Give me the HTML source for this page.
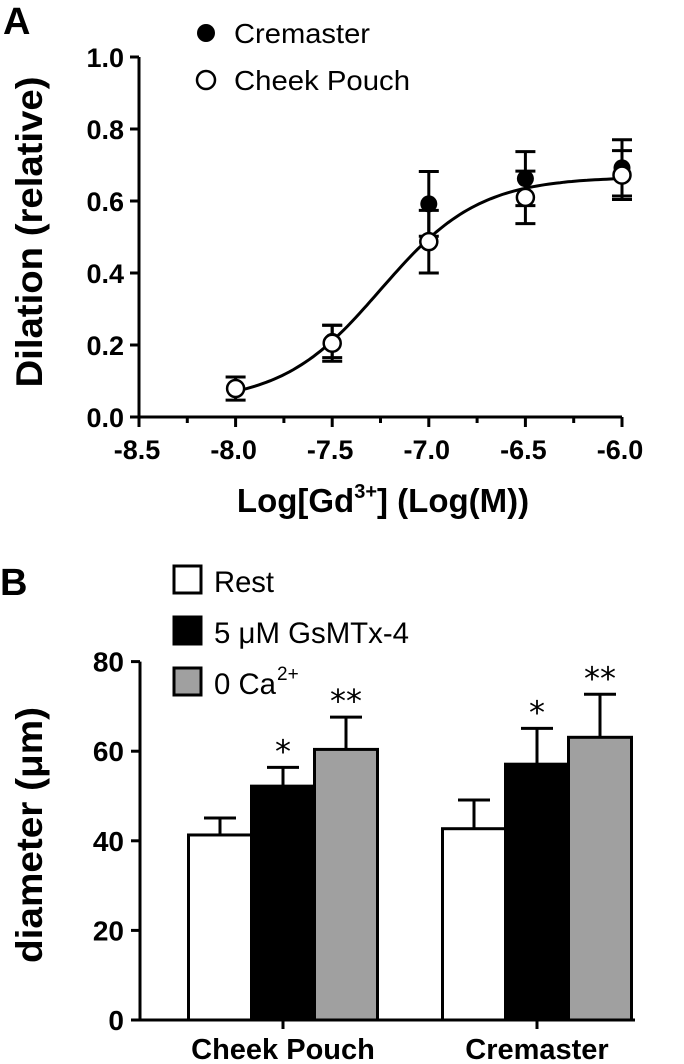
<!DOCTYPE html>
<html><head><meta charset="utf-8"><style>
html,body{margin:0;padding:0;background:#fff;}
svg{display:block;font-family:"Liberation Sans",Arial,sans-serif;}
</style></head><body>
<svg id="fig" width="684" height="1064" viewBox="0 0 684 1064" xmlns="http://www.w3.org/2000/svg">
<g id="pa"></g>
<g id="pb"></g>
</svg>
<script>
// ---- Panel A data ----
const doseX = [-8.0, -7.5, -7.0, -6.5, -6.0];
const cremY = [null, 0.21, 0.592, 0.662, 0.692];
const cremErr = [null, 0.045, 0.09, 0.075, 0.078];
const cheekY = [0.079, 0.205, 0.487, 0.61, 0.672];
const cheekErr = [0.032, 0.05, 0.087, 0.073, 0.068];
const xTicksA = [-8.5, -8.0, -7.5, -7.0, -6.5, -6.0];
const yTicksA = [0.0, 0.2, 0.4, 0.6, 0.8, 1.0];
const fitParams = [0.04, 0.667, -7.25, 1.7]; // bottom, top, logEC50, hill
// ---- Panel B data ----
const groups = ["Cheek Pouch", "Cremaster"];
const restVals = [41.3, 42.7];
const restErr = [3.8, 6.4];
const gsVals = [52.2, 57.1];
const gsErr = [4.2, 8.0];
const caVals = [60.4, 63.1];
const caErr = [7.2, 9.6];
const yTicksB = [0, 20, 40, 60, 80];
const gsStars = ["*", "*"];
const caStars = ["**", "**"];

const NS = "http://www.w3.org/2000/svg";
function mk(parent, tag, attrs, text) {
  const e = document.createElementNS(NS, tag);
  for (const k in attrs) e.setAttribute(k, attrs[k]);
  if (text !== undefined) e.textContent = text;
  parent.appendChild(e);
  return e;
}
const pa = document.getElementById('pa');
const pb = document.getElementById('pb');

const xA = v => 139 + (v + 8.5) * 193.2;
const yA = v => 417 - v * 360;

let t;
t = mk(pa, 'text', {x: 3, y: 34, 'font-size': 38, 'font-weight': 'bold'}, 'A');



let ax = mk(pa, 'path', {d: `M139 ${yA(1)} V${yA(0)} H${xA(-6)}`, fill: 'none', stroke: '#000', 'stroke-width': 3});


yTicksA.forEach(v => {
  const l = mk(pa, 'line', {x1: 130, x2: 139, y1: yA(v), y2: yA(v), stroke: '#000', 'stroke-width': 3});
  
  
  const tx = mk(pa, 'text', {x: 124, y: yA(v) + 10, 'font-size': 27, 'font-weight': 'bold', 'text-anchor': 'end'}, v.toFixed(1));
  
  
});
xTicksA.forEach((v, i) => {
  const l = mk(pa, 'line', {x1: xA(v), x2: xA(v), y1: 417, y2: 427, stroke: '#000', 'stroke-width': 3});
  
  
  if (i < xTicksA.length - 1) {
    const m = mk(pa, 'line', {x1: xA(v + 0.25), x2: xA(v + 0.25), y1: 417, y2: 423, stroke: '#000', 'stroke-width': 3});
    
    
  }
  const tx = mk(pa, 'text', {x: xA(v) - 2, y: 459, 'font-size': 27, 'font-weight': 'bold', 'text-anchor': 'middle'}, v.toFixed(1));
  
  
});
t = mk(pa, 'text', {x: 383, y: 512, 'font-size': 33, 'font-weight': 'bold', 'text-anchor': 'middle'});
t.innerHTML = 'Log[Gd<tspan font-size="20" dy="-14">3+</tspan><tspan dy="14">] (Log(M))</tspan>';


t = mk(pa, 'text', {x: 0, y: 0, 'font-size': 37, 'font-weight': 'bold', 'text-anchor': 'middle', textLength: 311, lengthAdjust: 'spacingAndGlyphs', transform: 'translate(42,232) rotate(-90)'}, 'Dilation (relative)');



let d = '';
for (let x = -8.0; x <= -6.0001 + 0.01; x += 0.02) {
  const [b, tp, ec, h] = fitParams;
  const y = b + (tp - b) / (1 + Math.pow(10, (ec - x) * h));
  d += (d ? 'L' : 'M') + xA(x).toFixed(1) + ' ' + yA(y).toFixed(1);
}
let cv = mk(pa, 'path', {d: d, fill: 'none', stroke: '#000', 'stroke-width': 3});



function errBar(parent, x, y, e, name) {
  const g = mk(parent, 'g', {stroke: '#000', 'stroke-width': 3});
  
  
  mk(g, 'line', {x1: x, x2: x, y1: yA(y + e), y2: yA(y - e)});
  mk(g, 'line', {x1: x - 10, x2: x + 10, y1: yA(y + e), y2: yA(y + e)});
  mk(g, 'line', {x1: x - 10, x2: x + 10, y1: yA(y - e), y2: yA(y - e)});
}
doseX.forEach((v, i) => {
  if (cremY[i] !== null) {
    errBar(pa, xA(v), cremY[i], cremErr[i], 'cremaster-error-bar');
    const c = mk(pa, 'circle', {cx: xA(v), cy: yA(cremY[i]), r: 8.5, fill: '#000'});
    
    
  }
});
doseX.forEach((v, i) => {
  errBar(pa, xA(v), cheekY[i], cheekErr[i], 'cheek-pouch-error-bar');
  const c = mk(pa, 'circle', {cx: xA(v), cy: yA(cheekY[i]), r: 8.5, fill: '#fff', stroke: '#000', 'stroke-width': 2.5});
  
  
});
let lg = mk(pa, 'g', {});


let e1 = mk(lg, 'circle', {cx: 206, cy: 33, r: 9, fill: '#000'});


t = mk(lg, 'text', {x: 234, y: 43, 'font-size': 28, textLength: 136, lengthAdjust: 'spacingAndGlyphs'}, 'Cremaster');


e1 = mk(lg, 'circle', {cx: 206, cy: 80, r: 9, fill: '#fff', stroke: '#000', 'stroke-width': 2.5});


t = mk(lg, 'text', {x: 234, y: 90, 'font-size': 28, textLength: 176, lengthAdjust: 'spacingAndGlyphs'}, 'Cheek Pouch');



// ---- Panel B ----
const yB = v => 1020 - v * 4.48;
const groupX = [283, 537];
const barW = 63;
t = mk(pb, 'text', {x: 0, y: 595, 'font-size': 38, 'font-weight': 'bold'}, 'B');


ax = mk(pb, 'path', {d: `M140 ${yB(80)} V${yB(0)} H635`, fill: 'none', stroke: '#000', 'stroke-width': 3});


yTicksB.forEach(v => {
  const l = mk(pb, 'line', {x1: 131, x2: 140, y1: yB(v), y2: yB(v), stroke: '#000', 'stroke-width': 3});
  
  
  const tx = mk(pb, 'text', {x: 124, y: yB(v) + 10, 'font-size': 28, 'font-weight': 'bold', 'text-anchor': 'end'}, String(v));
  
  
});
t = mk(pb, 'text', {x: 0, y: 0, 'font-size': 37, 'font-weight': 'bold', 'text-anchor': 'middle', textLength: 256, lengthAdjust: 'spacingAndGlyphs', transform: 'translate(42,835) rotate(-90)'}, 'diameter (μm)');



const series = [
  {vals: restVals, err: restErr, fill: '#fff', name: 'rest', stars: null},
  {vals: gsVals, err: gsErr, fill: '#000', name: 'gsmtx4', stars: gsStars},
  {vals: caVals, err: caErr, fill: '#a0a0a0', name: 'zero-ca', stars: caStars}
];
groups.forEach((gname, gi) => {
  const tk = mk(pb, 'line', {x1: groupX[gi], x2: groupX[gi], y1: 1020, y2: 1029, stroke: '#000', 'stroke-width': 3});
  
  
  const tx = mk(pb, 'text', {x: groupX[gi], y: 1059, 'font-size': 29, 'font-weight': 'bold', 'text-anchor': 'middle'}, gname);
  
  
  series.forEach((s, si) => {
    const x0 = groupX[gi] + (si - 1.5) * barW;
    const cx = x0 + barW / 2;
    const v = s.vals[gi], e = s.err[gi];
    const el = mk(pb, 'line', {x1: cx, x2: cx, y1: yB(v), y2: yB(v + e), stroke: '#000', 'stroke-width': 3});
    
    
    const cp = mk(pb, 'line', {x1: cx - 16, x2: cx + 16, y1: yB(v + e), y2: yB(v + e), stroke: '#000', 'stroke-width': 3});
    
    
    const r = mk(pb, 'rect', {x: x0, y: yB(v), width: barW, height: yB(0) - yB(v), fill: s.fill, stroke: '#000', 'stroke-width': 3});
    
    
    if (s.stars) {
      const st = mk(pb, 'text', {x: cx, y: yB(v + e) - 5, 'font-size': 32, 'text-anchor': 'middle', 'font-family': '"DejaVu Sans",sans-serif'}, s.stars[gi]);
      
      
    }
  });
});
lg = mk(pb, 'g', {});


const legItems = [['#fff', 'Rest', 566, 60], ['#000', '5 μM GsMTx-4', 617, 195], ['#a0a0a0', '0 Ca', 668, 62]];
legItems.forEach((it, i) => {
  const b = mk(lg, 'rect', {x: 174, y: it[2], width: 27, height: 27, fill: it[0], stroke: '#000', 'stroke-width': 3});
  
  
  const tx = mk(lg, 'text', {x: 214, y: it[2] + 26, 'font-size': 30, textLength: it[3], lengthAdjust: 'spacingAndGlyphs'}, it[1]);
  
  
  if (i === 2) {
    const sup = mk(lg, 'text', {x: 277, y: it[2] + 12, 'font-size': 19}, '2+');
    
    
  }
});
</script>
</body></html>
